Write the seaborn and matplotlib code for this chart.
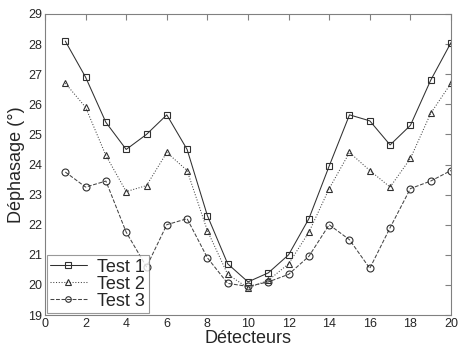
import numpy as np
import pandas as pd
import matplotlib
matplotlib.use("Agg")
import matplotlib.pyplot as plt
import seaborn as sns

detecteurs = list(range(1, 21))
test1 = [28.1, 26.9, 25.4, 24.5, 25.0, 25.65, 24.5, 22.3, 20.7, 20.1,
         20.4, 21.0, 22.2, 23.95, 25.65, 25.45, 24.65, 25.3, 26.8, 28.05]
test2 = [26.7, 25.9, 24.3, 23.1, 23.3, 24.4, 23.8, 21.8, 20.35, 19.9,
         20.15, 20.7, 21.75, 23.2, 24.4, 23.8, 23.25, 24.2, 25.7, 26.7]
test3 = [23.75, 23.25, 23.45, 21.75, 20.6, 22.0, 22.2, 20.9, 20.05, 19.95,
         20.1, 20.35, 20.95, 22.0, 21.5, 20.55, 21.9, 23.2, 23.45, 23.8]
series = ["Test 1", "Test 2", "Test 3"]

df = pd.DataFrame({"Détecteurs": detecteurs * 3,
                   "Déphasage": test1 + test2 + test3,
                   "Test": np.repeat(series, len(detecteurs))})

sns.set_style("white")
plt.rcParams["font.family"] = ["Liberation Sans", "DejaVu Sans"]

fig = plt.figure(figsize=(4.58, 3.5), dpi=100)
ax = fig.add_axes([45 / 458, 35 / 350, 406 / 458, 301 / 350])

styles = {"Test 1": ("-", "s", "#303030"),
          "Test 2": (":", "^", "#454545"),
          "Test 3": ("--", "o", "#454545")}
for name in series:
    ls, mk, col = styles[name]
    sns.lineplot(data=df[df["Test"] == name], x="Détecteurs", y="Déphasage",
                 ax=ax, color=col, linestyle=ls, marker=mk, markersize=5,
                 markerfacecolor="none", markeredgecolor="#303030",
                 markeredgewidth=0.8, linewidth=0.75, label=name)

ax.set_xlim(0, 20)
ax.set_ylim(19, 29)
ax.set_xticks(range(0, 21, 2))
ax.set_yticks(range(19, 30))
ax.tick_params(direction="in", length=4, width=0.8, color="#808080",
               labelsize=9, top=True, right=True, pad=2)
for s in ax.spines.values():
    s.set_color("#808080")
    s.set_linewidth(0.8)
ax.set_xlabel("Détecteurs", fontsize=13, labelpad=0)
ax.set_ylabel("Déphasage (°)", fontsize=13, labelpad=2)

leg = ax.legend(loc="lower left", fontsize=13, frameon=True, fancybox=False,
                edgecolor="#808080", borderaxespad=0.1, handlelength=2.0,
                labelspacing=0.0, borderpad=0.2, handletextpad=0.6,
                markerscale=0.8)
leg.get_frame().set_linewidth(0.8)

fig.savefig("out.png", dpi=100)
